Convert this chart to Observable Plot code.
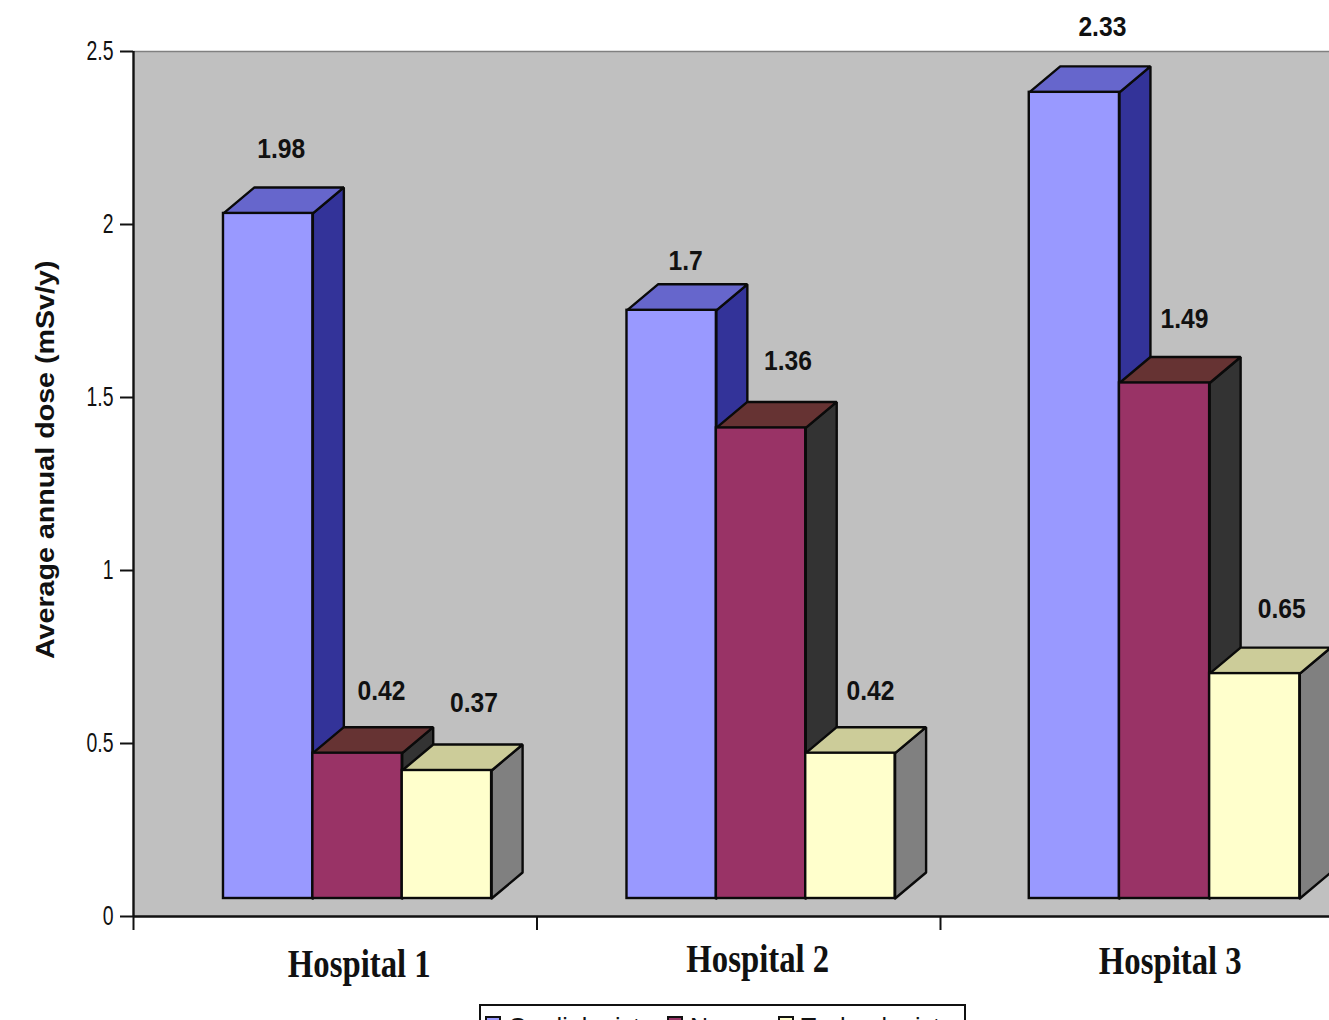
<!DOCTYPE html>
<html>
<head>
<meta charset="utf-8">
<script src="https://cdn.jsdelivr.net/npm/d3@7"></script>
<script src="https://cdn.jsdelivr.net/npm/@observablehq/plot@0.6"></script>
<style>
  html, body { margin: 0; padding: 0; background: #fff; overflow: hidden; }
  #legend {
    position: relative; box-sizing: border-box; margin-left: 479px; width: 487px; height: 40px;
    border: 2px solid #111; display: flex; align-items: flex-start; padding: 9px 0 0 4px;
    font: 25px/25px "Liberation Sans", Arial, sans-serif; color: #111; white-space: nowrap;
  }
  #legend span.key { flex: none; width: 16px; height: 15px; border: 2px solid #111; box-sizing: border-box; margin: 1px 7px 0 0; background-clip: padding-box; }
  #legend span.name { flex: none; }
</style>
</head>
<body>
<div id="chart"></div>
<div id="legend"></div>
<script>
// Average annual dose per staff group at three hospitals
const hospitals = ["Hospital 1", "Hospital 2", "Hospital 3"];
const staffGroups = ["Cardiologists", "Nurses", "Technologists"];
const cardiologists = [1.98, 1.7, 2.33];
const nurses = [0.42, 1.36, 1.49];
const technologists = [0.37, 0.42, 0.65];
const yTicks = [0, 0.5, 1, 1.5, 2, 2.5];

// Face colours for each staff group
const frontColors = ["#9999ff", "#993366", "#ffffcc"];
const sideColors = ["#333399", "#333333", "#808080"];
const topColors = ["#6666cc", "#663333", "#cccc99"];

// Bar geometry, in hospital slots on x and dose units on y
const barStarts = [0.223, 0.223, 0.22];
const barWidths = [0.2215, 0.2215, 0.2235];
const depthX = 0.0768, depthY = 0.0751;
const lift = -18; // pixels the front faces sit above the axis

// Value label nudges [dx, dy] by hospital, then staff group
const labelNudge = [
  [[13, -64], [24, -62], [27, -67]],
  [[14, -49], [27, -67], [20, -62]],
  [[28, -65], [20, -64], [27, -65]]
];
// Category label nudges [dx, dy]
const hospitalNudge = [[24, 48], [19, 43], [28, 45]];
// Legend item widths, key included
const legendWidths = [182, 111, 170];

const seriesValues = [cardiologists, nurses, technologists];
const bars = staffGroups.flatMap((group, s) =>
  hospitals.map((hospital, h) => ({
    group, s, h, hospital,
    value: seriesValues[s][h],
    x1: h + barStarts[h] + s * barWidths[h],
    x2: h + barStarts[h] + (s + 1) * barWidths[h]
  }))
);

const topFace = b => [[b.x1, b.value], [b.x2, b.value], [b.x2 + depthX, b.value + depthY], [b.x1 + depthX, b.value + depthY], [b.x1, b.value]];
const sideFace = b => [[b.x2, 0], [b.x2 + depthX, depthY], [b.x2 + depthX, b.value + depthY], [b.x2, b.value], [b.x2, 0]];
const vertices = (rows, face) => rows.flatMap((b, i) => face(b).map(([x, y]) => ({x, y, key: i})));

const faceStyle = {stroke: "#0a0a0a", strokeWidth: 2.4, strokeLinejoin: "miter", curve: "linear", dy: lift};

const barMarks = staffGroups.flatMap((group, s) => {
  const rows = bars.filter(b => b.s === s);
  return [
    Plot.line(vertices(rows, sideFace), {x: "x", y: "y", z: "key", fill: sideColors[s], ...faceStyle}),
    Plot.line(vertices(rows, topFace), {x: "x", y: "y", z: "key", fill: topColors[s], ...faceStyle}),
    Plot.rect(rows, {x1: "x1", x2: "x2", y1: () => 0, y2: "value", fill: frontColors[s], stroke: "#0a0a0a", strokeWidth: 2.4, dy: lift})
  ];
});

const valueLabels = bars.map(b =>
  Plot.text([b], {
    x: d => (d.x1 + d.x2) / 2, y: "value", text: d => String(d.value),
    dx: labelNudge[b.h][b.s][0], dy: labelNudge[b.h][b.s][1] + lift,
    ariaLabel: () => "value label",
    fontFamily: "'Liberation Sans', Arial, sans-serif", fontWeight: "bold", fontSize: 28, fill: "#111"
  })
);

const hospitalLabels = hospitals.map((name, h) =>
  Plot.text([name], {
    x: () => h + 0.5, y: () => 0, text: d => d,
    dx: hospitalNudge[h][0], dy: hospitalNudge[h][1],
    ariaLabel: () => "hospital label",
    fontFamily: "'Liberation Serif', 'Times New Roman', serif", fontWeight: "bold", fontSize: 39, fill: "#111"
  })
);

const chart = Plot.plot({
  width: 1329,
  height: 1004,
  marginTop: 51,
  marginBottom: 88,
  marginLeft: 133,
  marginRight: 0,
  x: {domain: [0, 3], range: [133, 1343.5]},
  y: {domain: [0, 2.5], range: [916, 51]},
  style: {background: "#fff", overflow: "visible"},
  marks: [
    Plot.frame({fill: "#c0c0c0", stroke: null}),
    Plot.ruleY([2.5], {stroke: "#808080", strokeWidth: 1.5}),
    ...barMarks,
    Plot.ruleX([0], {stroke: "#111", strokeWidth: 2.4}),
    Plot.ruleY([0], {stroke: "#111", strokeWidth: 2.4}),
    Plot.axisY({
      ticks: yTicks, tickSize: 13, tickPadding: 7, label: null, tickFormat: d => String(d),
      fontFamily: "'Liberation Sans', sans-serif", fontSize: 27, stroke: "#111", strokeWidth: 2, fill: "#111"
    }),
    Plot.axisX({ticks: [0, 1, 2], tickSize: 14, tickFormat: () => "", label: null, stroke: "#111", strokeWidth: 2}),
    Plot.text(["Average annual dose (mSv/y)"], {
      x: () => 0, y: () => 1.32, text: d => d, rotate: -90, dx: -88,
      ariaLabel: () => "dose axis label",
      fontFamily: "'Liberation Sans', Arial, sans-serif", fontWeight: "bold", fontSize: 25.5, fill: "#111"
    }),
    ...valueLabels,
    ...hospitalLabels
  ]
});
document.getElementById("chart").appendChild(chart);

// Condense or widen a group of labels along their reading direction
function stretchText(selector, factor) {
  d3.select(chart).selectAll(selector).attr("transform", function() {
    return `${this.getAttribute("transform") || ""} scale(${factor},1)`;
  });
}
stretchText('g[aria-label="y-axis tick label"] text', 0.72);
stretchText('text[aria-label="value label"]', 0.88);
stretchText('text[aria-label="hospital label"]', 0.84);
stretchText('text[aria-label="dose axis label"]', 1.124);

const legend = d3.select("#legend");
staffGroups.forEach((group, s) => {
  const item = legend.append("span").style("display", "flex").style("flex", "none").style("width", `${legendWidths[s]}px`);
  item.append("span").attr("class", "key").style("background-color", frontColors[s]);
  item.append("span").attr("class", "name").text(group);
});
</script>
</body>
</html>
